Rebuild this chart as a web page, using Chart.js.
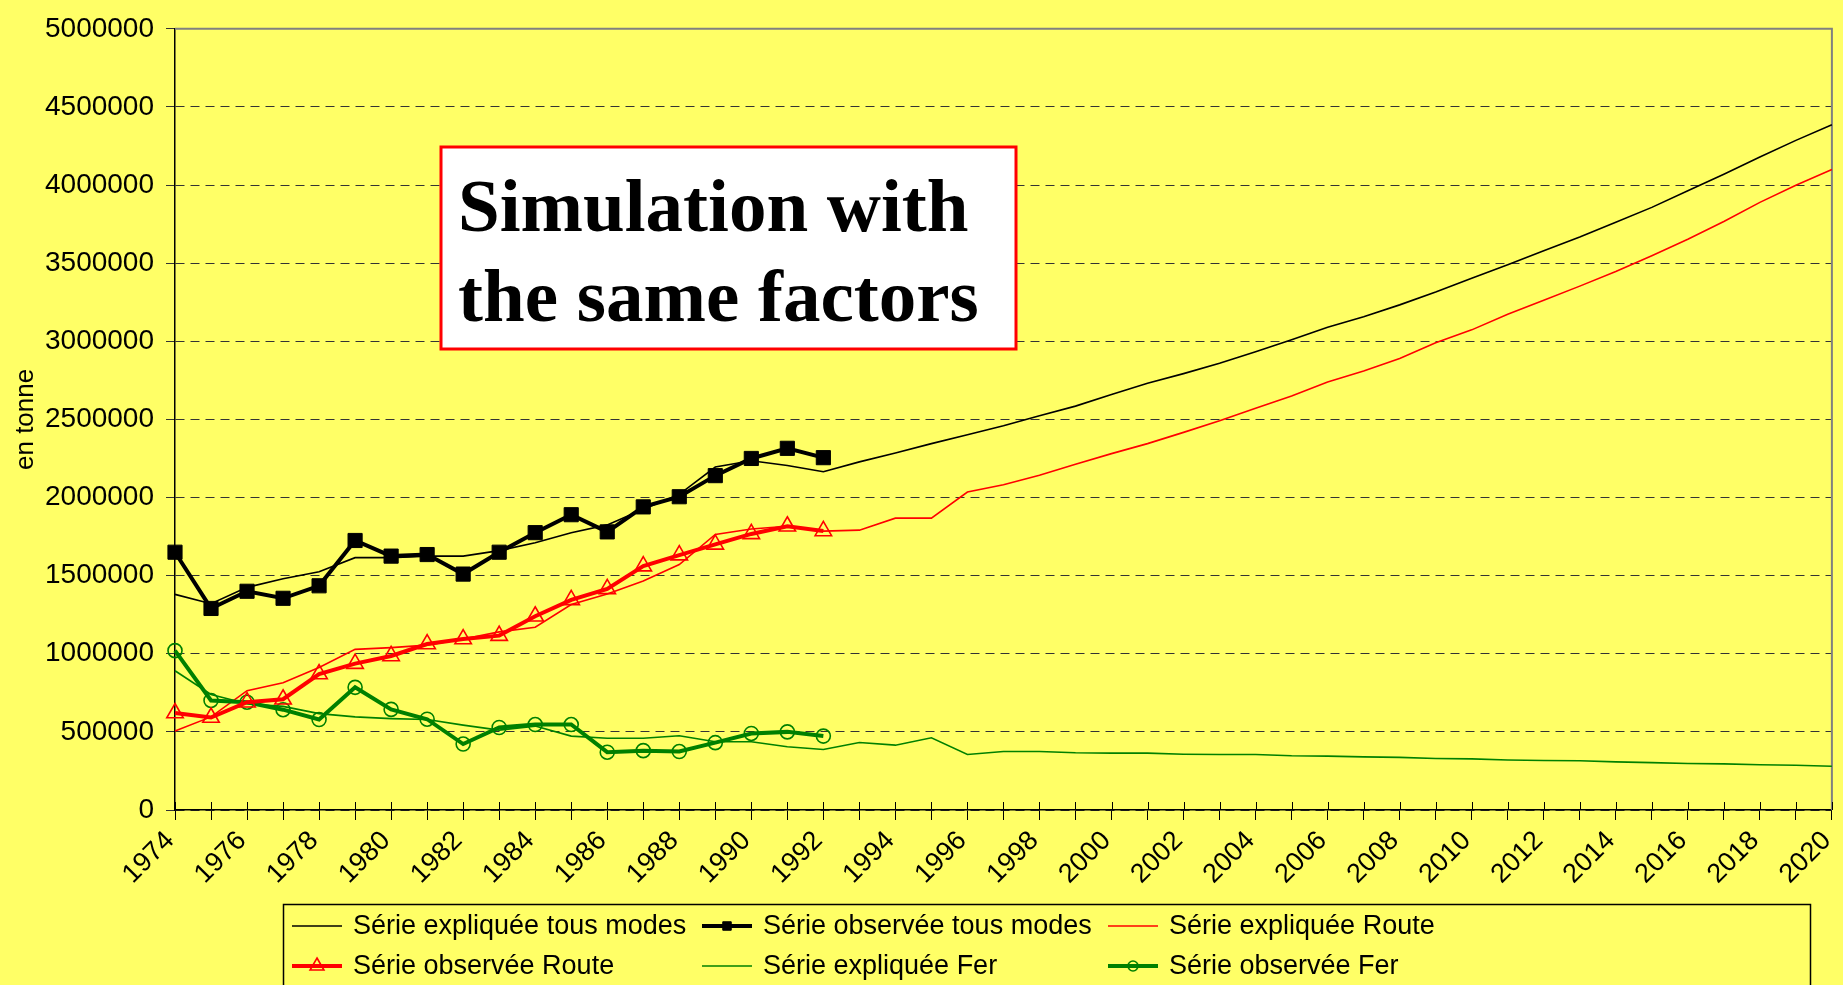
<!DOCTYPE html>
<html lang="fr">
<head>
<meta charset="utf-8">
<title>Simulation with the same factors</title>
<script src="https://cdn.jsdelivr.net/npm/chart.js@4.4.1/dist/chart.umd.min.js"></script>
<style>
    html, body { margin: 0; padding: 0; background: #ffff66; }
    #wrap { position: relative; width: 1843px; height: 985px; }
</style>
</head>
<body>
<div id="wrap"><canvas id="freightChart"></canvas></div>
<script>
// Years on the category axis
const years = [
    '1974', '1975', '1976', '1977', '1978', '1979', '1980', '1981', '1982', '1983',
    '1984', '1985', '1986', '1987', '1988', '1989', '1990', '1991', '1992', '1993',
    '1994', '1995', '1996', '1997', '1998', '1999', '2000', '2001', '2002', '2003',
    '2004', '2005', '2006', '2007', '2008', '2009', '2010', '2011', '2012', '2013',
    '2014', '2015', '2016', '2017', '2018', '2019', '2020'
];

// Y axis tick values (tonnes)
const yTicks = [0, 500000, 1000000, 1500000, 2000000, 2500000, 3000000, 3500000, 4000000, 4500000, 5000000];

// Série expliquée tous modes
const explainedAll = [
    1380000, 1320000, 1425000, 1480000, 1525000, 1615000, 1615000, 1625000, 1625000, 1660000,
    1710000, 1775000, 1825000, 1925000, 2020000, 2195000, 2235000, 2205000, 2165000, 2228000,
    2285000, 2345000, 2402000, 2459000, 2523000, 2585000, 2659000, 2731000, 2793000, 2859000,
    2933000, 3010000, 3090000, 3157000, 3233000, 3315000, 3404000, 3490000, 3579000, 3667000,
    3762000, 3857000, 3963000, 4069000, 4179000, 4286000, 4386000
];

// Série observée tous modes (1974-1992)
const observedAll = [
    1650000, 1290000, 1400000, 1355000, 1435000, 1725000, 1625000, 1635000, 1510000, 1650000,
    1775000, 1890000, 1780000, 1940000, 2005000, 2140000, 2250000, 2315000, 2255000
];

// Série expliquée Route
const explainedRoad = [
    505000, 596000, 764000, 815000, 912000, 1028000, 1039000, 1055000, 1095000, 1140000,
    1170000, 1315000, 1383000, 1466000, 1571000, 1764000, 1799000, 1816000, 1785000, 1791000,
    1868000, 1868000, 2035000, 2082000, 2143000, 2213000, 2281000, 2345000, 2417000, 2491000,
    2572000, 2650000, 2740000, 2810000, 2890000, 2991000, 3073000, 3173000, 3262000, 3353000,
    3446000, 3548000, 3653000, 3767000, 3889000, 3998000, 4100000
];

// Série observée Route (1974-1992)
const observedRoad = [
    621000, 592000, 690000, 709000, 870000, 937000, 986000, 1062000, 1094000, 1116000,
    1240000, 1345000, 1415000, 1561000, 1631000, 1700000, 1767000, 1816000, 1786000
];

// Série expliquée Fer
const explainedRail = [
    891000, 739000, 680000, 663000, 617000, 596000, 585000, 579000, 543000, 511000,
    537000, 473000, 459000, 459000, 475000, 437000, 437000, 405000, 387000, 432000,
    415000, 462000, 355000, 374000, 374000, 366000, 364000, 364000, 357000, 355000,
    355000, 347000, 345000, 340000, 337000, 330000, 327000, 320000, 317000, 315000,
    308000, 303000, 298000, 295000, 290000, 286000, 280000
];

// Série observée Fer (1974-1992)
const observedRail = [
    1020000, 701000, 690000, 642000, 579000, 785000, 644000, 581000, 422000, 528000,
    547000, 547000, 370000, 380000, 374000, 431000, 490000, 500000, 473000
];

const SANS = '"Liberation Sans", Arial, sans-serif';
const SERIF = '"Liberation Serif", "Times New Roman", serif';

// observed series stop in 1992, pad the rest with gaps
const pad = arr => arr.concat(new Array(years.length - arr.length).fill(null));

// Plot frame: grey top/right border and the inner half of the year ticks
const framePlugin = {
    id: 'frame',
    beforeDatasetsDraw(chart) {
        const { ctx, chartArea: a, scales: { x } } = chart;
        ctx.save();
        ctx.strokeStyle = '#808080';
        ctx.lineWidth = 2;
        ctx.beginPath();
        ctx.moveTo(a.left, a.top);
        ctx.lineTo(a.right, a.top);
        ctx.lineTo(a.right, a.bottom);
        ctx.stroke();

        ctx.strokeStyle = '#000';
        ctx.lineWidth = 1;
        ctx.beginPath();
        x.ticks.forEach((t, i) => {
            const px = Math.round(x.getPixelForTick(i)) + 0.5;
            ctx.moveTo(px, a.bottom);
            ctx.lineTo(px, a.bottom - 8);
        });
        ctx.stroke();
        ctx.restore();
    }
};

// White text box with red border inside the plot
const noteBoxPlugin = {
    id: 'noteBox',
    afterDatasetsDraw(chart) {
        const ctx = chart.ctx;
        ctx.save();
        ctx.fillStyle = '#fff';
        ctx.fillRect(441, 147, 575, 202);
        ctx.strokeStyle = '#ff0000';
        ctx.lineWidth = 3;
        ctx.strokeRect(441, 147, 575, 202);
        ctx.fillStyle = '#000';
        ctx.font = 'bold 75px ' + SERIF;
        ctx.textAlign = 'left';
        ctx.textBaseline = 'alphabetic';
        ctx.fillText('Simulation with', 458, 231);
        ctx.fillText('the same factors', 458, 321);
        ctx.restore();
    }
};

// Legend in a boxed 3-column grid under the axis
const gridLegendPlugin = {
    id: 'gridLegend',
    afterDraw(chart) {
        const ctx = chart.ctx;
        const cols = [292, 702, 1108];
        const rows = [926, 966];
        ctx.save();
        ctx.strokeStyle = '#000';
        ctx.lineWidth = 1.5;
        ctx.strokeRect(283.5, 904.5, 1527, 100);

        chart.data.datasets.forEach((ds, i) => {
            const x0 = cols[i % 3];
            const y0 = rows[Math.floor(i / 3)];
            ctx.strokeStyle = ds.borderColor;
            ctx.lineWidth = ds.borderWidth;
            ctx.beginPath();
            ctx.moveTo(x0, y0);
            ctx.lineTo(x0 + 50, y0);
            ctx.stroke();
            if (ds.pointRadius > 0) {
                ctx.fillStyle = ds.pointBackgroundColor;
                ctx.strokeStyle = ds.pointBorderColor;
                ctx.lineWidth = ds.pointBorderWidth;
                Chart.helpers.drawPoint(ctx, {
                    pointStyle: ds.pointStyle,
                    radius: ds.legendRadius,
                    borderWidth: ds.pointBorderWidth,
                    rotation: 0
                }, x0 + 25, y0);
            }
            ctx.fillStyle = '#000';
            ctx.font = '27px ' + SANS;
            ctx.textAlign = 'left';
            ctx.textBaseline = 'middle';
            ctx.fillText(ds.label, x0 + 61, y0 + 1);
        });
        ctx.restore();
    }
};

const ctx = document.getElementById('freightChart').getContext('2d');

new Chart(ctx, {
    type: 'line',
    data: {
        labels: years,
        datasets: [
            {
                label: 'Série expliquée tous modes',
                data: explainedAll,
                borderColor: '#000000',
                borderWidth: 1.6,
                pointRadius: 0,
                order: 2
            },
            {
                label: 'Série observée tous modes',
                data: pad(observedAll),
                borderColor: '#000000',
                borderWidth: 4,
                pointStyle: 'rect',
                pointRadius: 10,
                legendRadius: 6,
                pointBackgroundColor: '#000000',
                pointBorderColor: '#000000',
                pointBorderWidth: 1,
                order: 0
            },
            {
                label: 'Série expliquée Route',
                data: explainedRoad,
                borderColor: '#ff0000',
                borderWidth: 1.6,
                pointRadius: 0,
                order: 2
            },
            {
                label: 'Série observée Route',
                data: pad(observedRoad),
                borderColor: '#ff0000',
                borderWidth: 4,
                pointStyle: 'triangle',
                pointRadius: 9.5,
                legendRadius: 8,
                pointBackgroundColor: 'rgba(0,0,0,0)',
                pointBorderColor: '#ff0000',
                pointBorderWidth: 1.6,
                order: 0
            },
            {
                label: 'Série expliquée Fer',
                data: explainedRail,
                borderColor: '#008000',
                borderWidth: 1.6,
                pointRadius: 0,
                order: 2
            },
            {
                label: 'Série observée Fer',
                data: pad(observedRail),
                borderColor: '#008000',
                borderWidth: 4,
                pointStyle: 'circle',
                pointRadius: 7,
                legendRadius: 5,
                pointBackgroundColor: 'rgba(0,0,0,0)',
                pointBorderColor: '#008000',
                pointBorderWidth: 1.6,
                order: 0
            }
        ]
    },
    options: {
        responsive: true,
        maintainAspectRatio: false,
        animation: false,
        spanGaps: false,
        layout: { padding: { top: 21, right: 10, bottom: 82, left: 0 } },
        elements: { line: { tension: 0 } },
        plugins: {
            legend: { display: false },
            tooltip: { enabled: false }
        },
        scales: {
            x: {
                offset: false,
                grid: {
                    display: true,
                    drawOnChartArea: false,
                    drawTicks: true,
                    tickLength: 10,
                    tickColor: '#000',
                    tickWidth: 1
                },
                border: { display: true, color: '#000', width: 1.5 },
                ticks: {
                    autoSkip: false,
                    maxRotation: 45,
                    minRotation: 45,
                    padding: 5,
                    labelOffset: -5,
                    color: '#000',
                    font: { family: SANS, size: 27 },
                    callback: function (value, index) {
                        return index % 2 === 0 ? this.getLabelForValue(value) : '';
                    }
                },
                afterFit(scale) {
                    scale.height = 93;
                    scale.paddingLeft = 0;
                    scale.paddingRight = 0;
                }
            },
            y: {
                min: 0,
                max: 5000000,
                afterBuildTicks(scale) {
                    scale.ticks = yTicks.map(v => ({ value: v }));
                },
                afterFit(scale) { scale.width = 175; },
                grid: {
                    color: c => (c.tick && c.tick.value === 5000000 ? '#888' : '#333'),
                    lineWidth: 1,
                    tickLength: 9,
                    tickColor: '#333',
                    tickBorderDash: []
                },
                border: { display: true, color: '#000', width: 1.5, dash: [9, 6] },
                ticks: {
                    padding: 12,
                    color: '#000',
                    font: { family: SANS, size: 28 },
                    callback: v => String(v)
                },
                title: {
                    display: true,
                    text: 'en tonne',
                    color: '#000',
                    font: { family: SANS, size: 26 },
                    padding: { top: 10, bottom: 0 }
                }
            }
        }
    },
    plugins: [framePlugin, noteBoxPlugin, gridLegendPlugin]
});
</script>
</body>
</html>
